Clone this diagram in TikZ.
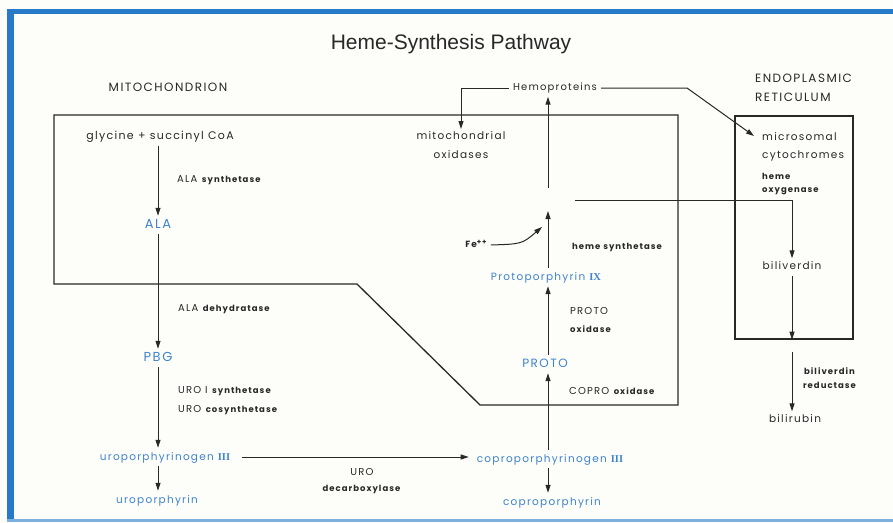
\documentclass[tikz,border=0pt]{standalone}
\usepackage{fontspec}
\setmainfont{Poppins}[LetterSpace=12]
\newfontfamily\titlefont{Liberation Sans}
\newfontfamily\numfont{Liberation Serif}
\usetikzlibrary{arrows.meta,calc}
\definecolor{bord}{RGB}{38,122,200}
\definecolor{prod}{RGB}{62,132,205}
\definecolor{ink}{RGB}{40,40,40}
\definecolor{paper}{RGB}{253,253,249}
\newcommand{\rmn}[1]{{\numfont\bfseries #1}}
\newcommand{\cp}[1]{{\fontsize{10}{10}\selectfont #1}}
\begin{document}
\begin{tikzpicture}[x=1pt,y=-1pt,
  every node/.style={inner sep=0pt, text=ink},
  lbl/.style={font=\fontsize{10.5}{12}\selectfont, text height=7pt, text depth=2pt, inner sep=4pt},
  blu/.style={font=\fontsize{10.5}{12}\selectfont, text=prod, text height=8pt, text depth=2pt, inner sep=4pt},
  bigblu/.style={font=\fontsize{13}{14}\selectfont, text=prod, text height=8pt, text depth=2pt, inner sep=4pt},
  enz/.style={font=\fontsize{8.5}{10}\selectfont, anchor=west},
  caps/.style={font=\fontsize{12}{13}\selectfont},
  arr/.style={draw=ink, line width=1pt, -{Triangle[length=8pt,width=5pt]}},
  wall/.style={draw=ink, line width=1.3pt}]
\useasboundingbox (0,0) rectangle (893,522);
\fill[paper] (0,0) rectangle (893,522);
% frame
\fill[bord] (7,9) rectangle (893,14);
\fill[bord] (7,9) rectangle (14,522);
\fill[bord!60] (7,519) rectangle (893,522);

% title and compartments
\node[font=\titlefont\fontsize{21}{24}\selectfont] (title) at (451,44) {Heme-Synthesis Pathway};
\node[caps] (mito) at (168,87) {MITOCHONDRION};
\node[caps, align=left, anchor=west, font=\fontsize{12}{19}\selectfont] (erlbl) at (755,88) {ENDOPLASMIC\\RETICULUM};

% mitochondrion outline
\draw[wall] (54,115) -- (678,115) -- (678,405) -- (480,405) -- (357,284) -- (54,284) -- cycle;
% ER box
\node[wall, minimum width=118pt, minimum height=223pt] (er) at (794,227.5) {};

% left column
\node[lbl, font=\fontsize{11}{12}\selectfont] (gly) at (160,137) {glycine + succinyl CoA};
\node[bigblu] (ala) at (158,225) {ALA};
\node[bigblu] (pbg) at (158,358) {PBG};
\node[blu] (urogen) at (165,457) {uroporphyrinogen \rmn{III}};
\node[blu] (uro) at (157,500) {uroporphyrin};

\node[enz] (e1) at (177,180) {\cp{ALA} \textbf{synthetase}};
\node[enz] (e2) at (178,309) {\cp{ALA} \textbf{dehydratase}};
\node[enz, align=left, font=\fontsize{8.5}{19}\selectfont, anchor=north west] (e3) at (178,386) {\cp{URO I} \textbf{synthetase}\\\cp{URO} \textbf{cosynthetase}};
\node[enz, align=center, anchor=center, font=\fontsize{8.5}{16}\selectfont] (e4) at (362,481) {\cp{URO}\\\textbf{decarboxylase}};

\draw[arr] (ala.north |- gly.south) -- (ala.north);
\draw[arr] (ala.south) -- (pbg.north);
\draw[arr] (pbg.south) -- (pbg.south |- urogen.north);
\draw[arr] (pbg.south |- urogen.south) -- (pbg.south |- uro.north);

% right column
\node[blu] (coprogen) at (550,459) {coproporphyrinogen \rmn{III}};
\node[blu] (copro) at (552,502) {coproporphyrin};
\node[bigblu, font=\fontsize{12}{14}\selectfont] (proto) at (545,364) {PROTO};
\node[blu] (ppix) at (546,277) {Protoporphyrin \rmn{IX}};
\coordinate (heme) at (548,200);
\node[lbl, font=\fontsize{10}{12}\selectfont] (hemo) at (555,88) {Hemoproteins};
\node[lbl, align=center, anchor=north, font=\fontsize{10.5}{19}\selectfont, text height=, text depth=, inner sep=2pt] (mox) at (461,129) {mitochondrial\\oxidases};
\node[lbl, font=\fontsize{9}{12}\selectfont\bfseries] (fe) at (476,245) {Fe\raisebox{3pt}{\fontsize{7}{8}\selectfont ++}};
\coordinate (fetip) at (542,227);

\node[enz] (e5) at (569,391) {\cp{COPRO} \textbf{oxidase}};
\node[enz, align=left, font=\fontsize{8.5}{18}\selectfont, anchor=north west] (e6) at (570,307) {\cp{PROTO}\\\textbf{oxidase}};
\node[enz] (e7) at (572,247) {\textbf{heme synthetase}};

\draw[arr, shorten <=8pt, shorten >=4pt] (urogen.east) -- (coprogen.west |- urogen.east);
\draw[arr] (548,0 |- coprogen.north) -- (548,0 |- proto.south);
\draw[arr] (548,0 |- coprogen.south) -- (548,0 |- copro.north);
\draw[arr] (548,0 |- proto.north) -- (548,0 |- ppix.south);
\draw[arr, shorten >=11pt] (548,0 |- ppix.north) -- (heme);
\draw[arr, shorten <=12pt] (heme) -- (548,0 |- hemo.south);
\draw[arr] (fe.east) .. controls (522,244) .. (fetip);
\draw[arr] (hemo.west) -| (mox.north);

% ER side
\node[lbl, align=left, anchor=north west, font=\fontsize{10.5}{18}\selectfont, text height=, text depth=, inner sep=0pt] (micro) at (762,132) {microsomal\\cytochromes};
\node[enz, align=left, font=\fontsize{8.5}{13}\selectfont, anchor=north west] (e8) at (762,173) {\textbf{heme}\\\textbf{oxygenase}};
\node[lbl] (bv) at (792,267) {biliverdin};
\node[lbl] (br) at (795,420) {bilirubin};
\node[enz, align=center, anchor=center, font=\fontsize{8.5}{14}\selectfont] (e9) at (830,378) {\textbf{biliverdin}\\\textbf{reductase}};

\draw[arr] (hemo.east) -- (687,88) -- ($(micro.north west)+(-8,4)$);
\draw[arr, shorten <=27pt] (heme) -| (bv.north);
\draw[arr] (bv.south) -- (bv.south |- er.south);
\draw[arr, shorten <=12pt] (bv.south |- er.south) -- (bv.south |- br.north);
\end{tikzpicture}
\end{document}
